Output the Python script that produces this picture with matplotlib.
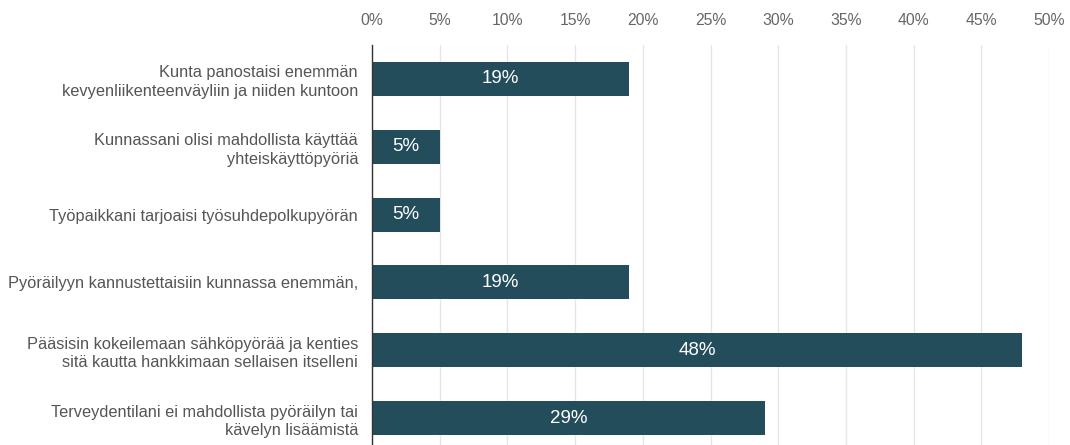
import matplotlib
matplotlib.use("Agg")
import matplotlib.pyplot as plt
from matplotlib.ticker import FuncFormatter

categories = [
    "Kunta panostaisi enemmän\nkevyenliikenteenväyliin ja niiden kuntoon",
    "Kunnassani olisi mahdollista käyttää\nyhteiskäyttöpyöriä",
    "Työpaikkani tarjoaisi työsuhdepolkupyörän",
    "Pyöräilyyn kannustettaisiin kunnassa enemmän,",
    "Pääsisin kokeilemaan sähköpyörää ja kenties\nsitä kautta hankkimaan sellaisen itselleni",
    "Terveydentilani ei mahdollista pyöräilyn tai\nkävelyn lisäämistä",
]
values = [19, 5, 5, 19, 48, 29]
tick_values = [0, 5, 10, 15, 20, 25, 30, 35, 40, 45, 50]

plt.rcParams['font.family'] = ['Liberation Sans', 'DejaVu Sans']

W, H = 1070, 445
fig = plt.figure(figsize=(W / 100, H / 100), dpi=100)
left, right, top, bottom = 372, 1049, 45, 452
ax = fig.add_axes([left / W, 1 - bottom / H, (right - left) / W, (bottom - top) / H])

ypos = list(range(len(categories)))
bars = ax.barh(ypos, values, height=0.5, color="#234d5b", zorder=3)
for b, v in zip(bars, values):
    ax.text(v / 2, b.get_y() + b.get_height() / 2, f"{v}%", ha="center", va="center",
            color="white", fontsize=13.5, zorder=4)

ax.set_xlim(0, 50)
ax.set_ylim(len(categories) - 0.5, -0.5)
ax.set_yticks(ypos)
ax.set_yticklabels(categories, fontsize=11.8, color="#555555", ha="right", linespacing=1.3)
ax.set_xticks(tick_values)
ax.xaxis.set_major_formatter(FuncFormatter(lambda x, p: f"{int(x)}%"))
ax.xaxis.tick_top()
ax.tick_params(axis="x", length=0, pad=12, labelsize=11.3, labelcolor="#666666")
ax.tick_params(axis="y", length=0, pad=10)
ax.grid(axis="x", color="#e6e6e6", linewidth=1, zorder=0)
for s in ["top", "right", "bottom"]:
    ax.spines[s].set_visible(False)
ax.spines["left"].set_color("#333333")
ax.spines["left"].set_linewidth(1)
ax.spines["left"].set_zorder(5)

fig.savefig("out.png", dpi=100)
